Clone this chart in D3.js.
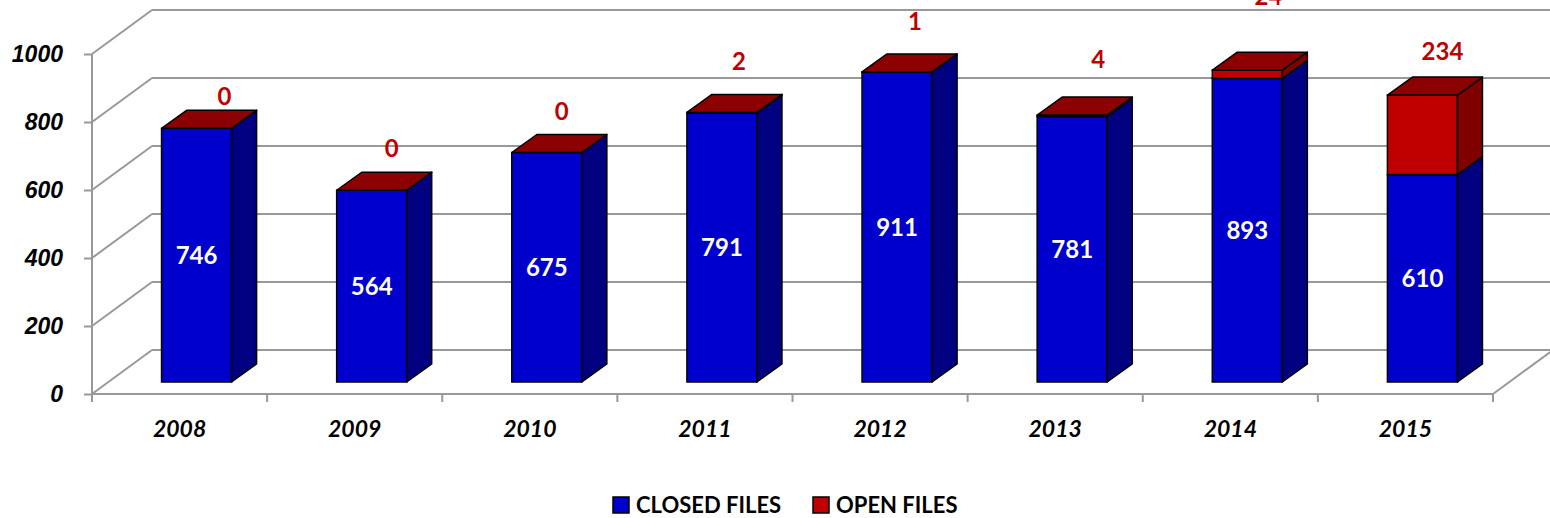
<!DOCTYPE html>
<html>
<head>
<meta charset="utf-8">
<script src="https://cdn.jsdelivr.net/npm/d3@7"></script>
<style>
  body { margin: 0; background: #fff; }
  svg { display: block; font-family: Lato, "Open Sans", sans-serif; }
</style>
</head>
<body>
<div id="chart"></div>
<script>
// chart values
var years = ['2008', '2009', '2010', '2011', '2012', '2013', '2014', '2015'];
var closedFiles = [746, 564, 675, 791, 911, 781, 893, 610];
var openFiles = [0, 0, 0, 2, 1, 4, 24, 234];
var yTicks = [0, 200, 400, 600, 800, 1000];
var seriesNames = ['CLOSED FILES', 'OPEN FILES'];

// hand placed label nudges for the open files labels (px)
var openLabelDx = [28, 20, 15, 17, 18, 26, 21, 20];
var openLabelLift = [32, 42, 41, 51, 50, 56, 74, 43];

var svgWidth = 1550;
var svgHeight = 518;

var svg = d3.select('#chart')
            .append('svg')
            .attr('width', svgWidth)
            .attr('height', svgHeight);

// scales for the front plane of the 3d box
var xScale = d3.scaleBand()
               .domain(years)
               .range([92, 1493])
               .padding(0);

var yScale = d3.scaleLinear()
               .domain([0, 1000])
               .range([394, 54]);

// depth of the whole box and of the bars
var wallDx = 60, wallDy = -44;
var barOffDx = 17, barOffDy = -12;
var barDx = 25, barDy = -18;
var barWidth = xScale.bandwidth() * 0.4;

var gridColor = '#999999';

// back wall grid + side wall diagonals
var grid = svg.append('g');
yTicks.forEach(function(t) {
    var y = yScale(t);
    grid.append('line')
        .attr('x1', 92).attr('y1', y)
        .attr('x2', 92 + wallDx).attr('y2', y + wallDy)
        .attr('stroke', gridColor).attr('stroke-width', 2);
    grid.append('line')
        .attr('x1', 92 + wallDx).attr('y1', y + wallDy)
        .attr('x2', 1493 + wallDx).attr('y2', y + wallDy)
        .attr('stroke', gridColor).attr('stroke-width', 2);
});

// floor front edge and right edge
var y0 = yScale(0);
grid.append('line')
    .attr('x1', 92).attr('y1', y0).attr('x2', 1493).attr('y2', y0)
    .attr('stroke', gridColor).attr('stroke-width', 2);
grid.append('line')
    .attr('x1', 1493).attr('y1', y0).attr('x2', 1493 + wallDx).attr('y2', y0 + wallDy)
    .attr('stroke', gridColor).attr('stroke-width', 2);

// y axis
var yAxis = d3.axisLeft(yScale).tickValues(yTicks).tickFormat(d3.format('d')).tickSize(8).tickPadding(21);
var yAxisGroup = svg.append('g')
    .attr('transform', 'translate(92,0)')
    .call(yAxis);
yAxisGroup.select('.domain').remove();
yAxisGroup.append('line')
    .attr('x1', 0).attr('x2', 0)
    .attr('y1', yScale(1000)).attr('y2', y0 + 8)
    .attr('stroke', gridColor).attr('stroke-width', 2);
yAxisGroup.selectAll('.tick line').attr('stroke', gridColor).attr('stroke-width', 2);
yAxisGroup.selectAll('.tick text')
    .attr('fill', '#000')
    .style('font-size', '23px')
    .style('font-weight', 'bold')
    .style('font-style', 'italic');

// x axis: ticks on category boundaries
var xAxisGroup = svg.append('g');
var bounds = years.map(function(d) { return xScale(d); }).concat([xScale.range()[1]]);
bounds.forEach(function(bx) {
    xAxisGroup.append('line')
        .attr('x1', bx).attr('x2', bx)
        .attr('y1', y0).attr('y2', y0 + 8)
        .attr('stroke', gridColor).attr('stroke-width', 2);
});
xAxisGroup.selectAll('text.xlab').data(years).enter()
    .append('text')
    .attr('class', 'xlab')
    .attr('x', function(d) { return xScale(d) + xScale.bandwidth() / 2; })
    .attr('y', 437)
    .attr('text-anchor', 'middle')
    .style('font-size', '23px')
    .style('font-weight', 'bold')
    .style('font-style', 'italic')
    .text(function(d) { return d; });

// stacked data
var rows = years.map(function(d, i) {
    return { year: d, closed: closedFiles[i], open: openFiles[i] };
});
var stack = d3.stack().keys(['closed', 'open'])(rows);

var colors = {
    closed: { front: '#0000CC', side: '#000080', top: '#00008B' },
    open: { front: '#C00000', side: '#800000', top: '#8B0000' }
};

var bars = svg.append('g');
rows.forEach(function(r, i) {
    var x0 = xScale(r.year) + (xScale.bandwidth() - barWidth) / 2 + barOffDx;
    var x1 = x0 + barWidth;
    stack.forEach(function(layer, k) {
        var seg = layer[i];
        var yb = yScale(seg[0]) + barOffDy;
        var yt = yScale(seg[1]) + barOffDy;
        var c = colors[layer.key];
        // front face
        bars.append('rect')
            .attr('x', x0).attr('y', yt)
            .attr('width', barWidth).attr('height', yb - yt)
            .attr('fill', c.front)
            .attr('stroke', '#000').attr('stroke-width', 1.5);
        // side face
        bars.append('polygon')
            .attr('points', [[x1, yt], [x1 + barDx, yt + barDy], [x1 + barDx, yb + barDy], [x1, yb]].join(' '))
            .attr('fill', c.side)
            .attr('stroke', '#000').attr('stroke-width', 1.5)
            .attr('stroke-linejoin', 'round');
        // top face on top segment
        if (k === stack.length - 1) {
            bars.append('polygon')
                .attr('points', [[x0, yt], [x0 + barDx, yt + barDy], [x1 + barDx, yt + barDy], [x1, yt]].join(' '))
                .attr('fill', c.top)
                .attr('stroke', '#000').attr('stroke-width', 1.5)
                .attr('stroke-linejoin', 'round');
        }
    });

    var cx = x0 + barWidth / 2;
    // closed value in middle of blue segment
    bars.append('text')
        .attr('x', cx)
        .attr('y', (yScale(0) + yScale(r.closed)) / 2 + barOffDy)
        .attr('dy', '0.35em')
        .attr('text-anchor', 'middle')
        .attr('fill', '#fff')
        .style('font-size', '24px')
        .style('font-weight', 'bold')
        .text(r.closed);
    // open value above the bar
    bars.append('text')
        .attr('x', cx + openLabelDx[i])
        .attr('y', yScale(r.closed + r.open) + barOffDy - openLabelLift[i])
        .attr('dy', '0.35em')
        .attr('text-anchor', 'middle')
        .attr('fill', '#C00000')
        .style('font-size', '24px')
        .style('font-weight', 'bold')
        .text(r.open);
});

// legend
var legend = svg.append('g').attr('transform', 'translate(0,505)');
var legendX = [613, 813];
seriesNames.forEach(function(name, i) {
    var key = i === 0 ? 'closed' : 'open';
    legend.append('rect')
        .attr('x', legendX[i]).attr('y', -8)
        .attr('width', 16).attr('height', 16)
        .attr('fill', colors[key].front)
        .attr('stroke', '#000').attr('stroke-width', 1.5);
    legend.append('text')
        .attr('x', legendX[i] + 23)
        .attr('y', 0)
        .attr('dy', '0.35em')
        .style('font-size', '22px')
        .style('font-weight', 'bold')
        .text(name);
});
</script>
</body>
</html>
